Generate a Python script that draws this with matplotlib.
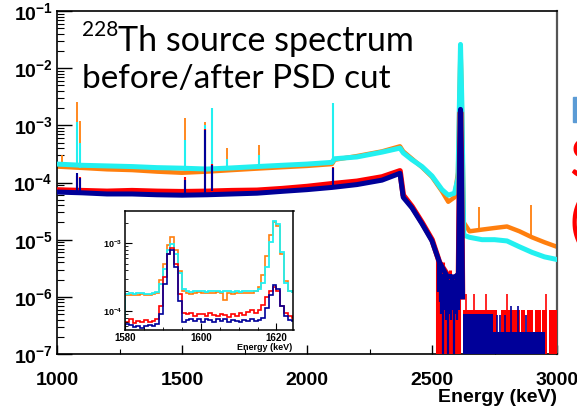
import numpy as np
import matplotlib
matplotlib.use("Agg")
import matplotlib.pyplot as plt
from matplotlib.patches import Rectangle
from matplotlib.ticker import FixedLocator, LogLocator, NullFormatter

plt.rcParams['font.family'] = ['Liberation Sans', 'DejaVu Sans']
plt.rcParams['mathtext.fontset'] = 'custom'
plt.rcParams['mathtext.rm'] = 'Liberation Sans'
plt.rcParams['mathtext.bf'] = 'Liberation Sans:bold'

ORANGE = '#ff7f0e'
CYAN = '#22f0f0'
RED = '#ff0000'
BLUE = '#000099'

# ---- main spectrum: continuum (counts/keV, normalised)
before_E = [1000, 1100, 1200, 1300, 1400, 1500, 1600, 1700, 1800, 1900, 2000, 2100, 2110,
            2200, 2300, 2372, 2385, 2420, 2460, 2500, 2540, 2565, 2590, 2604, 2610, 2614,
            2619, 2627, 2650, 2700, 2750, 2800, 2850, 2900, 2950, 3000]
orange = [1.9e-4, 1.8e-4, 1.7e-4, 1.65e-4, 1.55e-4, 1.48e-4, 1.55e-4, 1.65e-4, 1.75e-4,
          1.85e-4, 1.95e-4, 2.1e-4, 2.5e-4, 2.9e-4, 3.5e-4, 4.3e-4, 3.5e-4, 2.6e-4, 1.85e-4,
          1.25e-4, 7.0e-5, 4.6e-5, 5.5e-5, 1.5e-4, 3e-3, 2.4e-2, 3e-3, 2e-5, 1.4e-5, 1.5e-5,
          1.6e-5, 1.7e-5, 1.4e-5, 1.1e-5, 9e-6, 7.5e-6]
cyan = [2.1e-4, 2.0e-4, 1.95e-4, 1.9e-4, 1.82e-4, 1.78e-4, 1.72e-4, 1.8e-4, 1.9e-4, 2.0e-4,
        2.1e-4, 2.25e-4, 2.6e-4, 2.8e-4, 3.4e-4, 4.0e-4, 3.3e-4, 2.5e-4, 1.9e-4, 1.3e-4,
        7.5e-5, 6.0e-5, 6.5e-5, 1.2e-4, 3e-3, 2.6e-2, 3e-3, 1.2e-5, 1.1e-5, 1.0e-5, 1.0e-5,
        9.5e-6, 7.5e-6, 6e-6, 5e-6, 4.5e-6]

after_E = [1000, 1100, 1200, 1300, 1400, 1500, 1600, 1700, 1800, 1900, 2000, 2100, 2200,
           2300, 2372, 2385, 2420, 2460, 2500, 2530, 2560, 2590, 2606, 2611, 2614, 2617, 2622]
red = [7.4e-5, 7.2e-5, 7.0e-5, 7.2e-5, 7.0e-5, 6.9e-5, 7.0e-5, 7.2e-5, 7.3e-5, 7.8e-5,
       8.5e-5, 9.5e-5, 1.05e-4, 1.25e-4, 1.6e-4, 6e-5, 3.8e-5, 2.0e-5, 1.0e-5, 4.0e-6,
       2.5e-6, 2e-6, 2.5e-6, 3e-4, 1.7e-3, 3e-4, 1e-6]
blue = [6.8e-5, 6.6e-5, 6.3e-5, 6.3e-5, 6.1e-5, 6.0e-5, 6.1e-5, 6.3e-5, 6.5e-5, 7.0e-5,
        7.5e-5, 8.2e-5, 9.2e-5, 1.1e-4, 1.45e-4, 5.5e-5, 3.6e-5, 1.9e-5, 9.5e-6, 4.0e-6,
        2.3e-6, 2.2e-6, 2.5e-6, 3e-4, 1.9e-3, 3e-4, 1e-6]

# gamma lines (keV) with peak tops and the level of the band they sit on
peak_E = [1020, 1078, 1093, 1512, 1592, 1621, 1679, 1806, 2103, 2688, 2894]
orange_pk = [3.0e-4, 2.6e-3, 1.2e-3, 1.33e-3, 1.16e-3, 2.0e-3, 4.0e-4, 4.6e-4, 2.4e-3, 3.8e-5, 4.1e-5]
cyan_pk = [np.nan, 1.16e-3, 4.9e-4, 5.5e-4, 1.0e-3, 2.0e-3, 2.6e-4, 3.0e-4, 2.45e-3, np.nan, np.nan]
red_pk = [np.nan, 1.3e-4, 1.25e-4, 1.26e-4, 8.5e-4, 2.1e-4, np.nan, np.nan, 1.9e-4, np.nan, np.nan]
blue_pk = [np.nan, 1.45e-4, 1.2e-4, 1.1e-4, 8.3e-4, 2.0e-4, np.nan, np.nan, 1.8e-4, np.nan, np.nan]
before_base = [1.9e-4, 1.9e-4, 1.8e-4, 1.6e-4, 1.6e-4, 1.7e-4, 1.7e-4, 1.9e-4, 2.2e-4, 1.5e-5, 1.1e-5]
after_base = [7e-5, 7e-5, 7e-5, 6.5e-5, 6.5e-5, 7e-5, 7e-5, 7e-5, 9e-5, 1e-5, 1e-5]

# low-statistics region: bins drawn down to the floor
red_low_E = [2520, 2526, 2533, 2538, 2542, 2547, 2552, 2557, 2561, 2566, 2571, 2576, 2581,
             2586, 2590, 2595, 2600, 2605, 2609]
red_low_top = [5e-6, 4e-6, 3.5e-6, 2.5e-6, 4e-6, 1.5e-6, 3e-6, 2e-6, 2.5e-6, 1.2e-6, 3e-6,
               2e-6, 1.5e-6, 2.5e-6, 1.8e-6, 2.2e-6, 1.5e-6, 2e-6, 2.5e-6]
blue_low_E = [2522, 2530, 2537, 2544, 2550, 2556, 2563, 2569, 2575, 2582, 2588, 2594, 2600, 2606]
blue_low_bot = [1.2e-6, 8e-7, 5e-7, 1e-9, 6e-7, 4e-7, 1e-9, 5e-7, 4e-7, 6e-7, 1e-9, 5e-7, 4e-7, 6e-7]
blue_low_top = [5e-6, 4e-6, 3e-6, 2.5e-6, 3e-6, 2.2e-6, 2.5e-6, 2e-6, 2.5e-6, 2.2e-6, 2e-6,
                2.5e-6, 2.2e-6, 2.5e-6]
red_span_lo = [2624, 2775, 2856, 2878, 2912, 2941, 2966]
red_span_hi = [2760, 2850, 2870, 2905, 2935, 2960, 2998]
red_one = 5.9e-7
red_tall_E = [2637, 2667, 2717, 2800, 2955]
red_two = 1.1e-6
blue_span_lo = [2624, 2745]
blue_span_hi = [2745, 2952]
blue_span_lvl = [4.9e-7, 2.4e-7]
blue_bar_E = [2760, 2772, 2790, 2817, 2843, 2862, 2875, 2893]
blue_bar_top = [4.9e-7, 4.9e-7, 4.9e-7, 6.8e-7, 6.8e-7, 2.4e-7, 4.9e-7, 2.4e-7]

# ---- inset: 1 keV bins, 1580-1625 keV
inset_edges = np.arange(1580, 1626)
orange_in = np.array([1.72, 1.70, 1.75, 1.72, 1.78, 1.70, 1.74, 1.80, 1.85, 2.9, 5.0, 9.5, 12.3,
                      8.0, 3.9, 2.0, 1.85, 1.80, 1.88, 1.90, 1.85, 1.88, 1.82, 1.85, 1.90, 1.85,
                      1.45, 1.85, 1.80, 1.86, 1.82, 1.85, 1.88, 1.85, 1.95, 2.3, 3.4, 6.5, 13.0,
                      20.5, 18.0, 7.0, 2.8, 2.0, 1.9]) * 1e-4
cyan_in = np.array([1.80, 1.85, 1.78, 1.82, 1.88, 1.80, 1.78, 1.85, 1.90, 2.5, 4.2, 8.0, 9.8,
                    6.8, 3.6, 2.1, 1.95, 1.90, 1.95, 2.00, 1.95, 1.92, 1.98, 2.00, 1.95, 1.93,
                    1.97, 1.95, 1.92, 1.95, 1.90, 1.95, 1.98, 1.95, 2.00, 2.10, 2.6, 4.5, 10.5,
                    21.0, 19.0, 7.5, 2.6, 2.0, 1.9]) * 1e-4
red_in = np.array([7.0, 7.8, 6.8, 7.3, 7.0, 7.5, 7.0, 7.2, 7.8, 12, 32, 70, 85, 50, 18, 9.5,
                   9.0, 9.3, 8.6, 9.0, 9.2, 8.4, 9.5, 8.8, 8.5, 9.0, 8.7, 8.2, 9.0, 8.5, 9.3,
                   8.8, 9.8, 10.5, 9.5, 10.5, 12.5, 16, 20, 23, 20, 12, 9.5, 8.5, 8.0]) * 1e-5
blue_in = np.array([6.5, 6.2, 5.8, 6.0, 5.7, 6.0, 6.3, 6.0, 6.5, 9, 25, 70, 78, 45, 14, 7.0,
                    7.5, 7.8, 7.2, 7.6, 7.0, 7.8, 7.4, 7.0, 7.6, 7.3, 7.8, 7.0, 7.5, 7.2, 7.0,
                    7.5, 7.2, 7.6, 7.3, 7.5, 8.0, 11, 17, 24, 21, 12, 8.5, 7.5, 7.2]) * 1e-5

W, H = 577, 418
fig = plt.figure(figsize=(W / 100, H / 100), dpi=100)
ax = fig.add_axes([57 / W, 1 - 354 / H, 500 / W, 343 / H])

FLOOR = 1e-9
ax.plot(before_E, orange, color=ORANGE, lw=3.2, zorder=2)
ax.vlines(peak_E, before_base, orange_pk, color=ORANGE, lw=1.3, zorder=2)
ax.plot(before_E, cyan, color=CYAN, lw=3.6, zorder=3)
ax.vlines(peak_E, before_base, cyan_pk, color=CYAN, lw=1.5, zorder=3)

ax.vlines(red_low_E, FLOOR, red_low_top, color=RED, lw=2.2, zorder=4)
ax.bar(red_span_lo, [red_one] * len(red_span_lo), width=np.subtract(red_span_hi, red_span_lo),
       bottom=FLOOR, align='edge', color=RED, lw=0, zorder=4)
ax.vlines(red_tall_E, FLOOR, red_two, color=RED, lw=1.2, zorder=4)
ax.plot(after_E, red, color=RED, lw=4.0, zorder=4)
ax.vlines(peak_E, after_base, red_pk, color=RED, lw=1.5, zorder=4)

ax.bar(blue_span_lo, blue_span_lvl, width=np.subtract(blue_span_hi, blue_span_lo),
       bottom=FLOOR, align='edge', color=BLUE, lw=0, zorder=5)
ax.vlines(blue_bar_E, FLOOR, blue_bar_top, color=BLUE, lw=1.2, zorder=5)
ax.vlines(blue_low_E, blue_low_bot, blue_low_top, color=BLUE, lw=1.6, zorder=5)
ax.plot(after_E, blue, color=BLUE, lw=3.6, zorder=5)
ax.vlines(peak_E, after_base, blue_pk, color=BLUE, lw=1.5, zorder=5)

ax.set_yscale('log')
ax.set_xlim(1000, 3000)
ax.set_ylim(1e-7, 1e-1)
ax.set_yticks([10.0 ** k for k in range(-7, 0)])
ax.set_yticklabels([r'$\mathbf{10^{%d}}$' % k for k in range(-7, 0)], fontsize=14)
ax.yaxis.set_minor_locator(LogLocator(base=10, subs=np.arange(2, 10)))
ax.yaxis.set_minor_formatter(NullFormatter())
ax.set_xticks([1000, 1500, 2000, 2500, 3000])
ax.set_xticklabels(['1000', '1500', '2000', '2500', '3000'], fontsize=14, fontweight='bold')
ax.xaxis.set_minor_locator(FixedLocator([1250, 1750, 2250, 2750]))
ax.tick_params(axis='y', which='major', direction='in', length=11, width=1.0, pad=3)
ax.tick_params(axis='y', which='minor', direction='in', length=5, width=0.8)
ax.tick_params(axis='x', which='major', direction='in', length=6.5, width=1.0, pad=13)
ax.tick_params(axis='x', which='minor', direction='in', length=3.5, width=0.8)
for s in ax.spines.values():
    s.set_linewidth(1.2)
ax.spines['right'].set_color('#555555')
ax.spines['right'].set_linewidth(1.6)

fig.text(557 / W, 1 - 398 / H, 'Energy (keV)', ha='right', va='center',
         fontsize=14, fontweight='bold')

# title written on the slide
fig.text(82 / W, 1 - 36 / H, '228', family='Lato', fontsize=15, va='baseline')
fig.text(118 / W, 1 - 51 / H, 'Th source spectrum', family='Lato', fontsize=24.5, va='baseline')
fig.text(82 / W, 1 - 88 / H, 'before/after PSD cut', family='Lato', fontsize=24, va='baseline')

# slide text cut off at the right edge
fig.patches.append(Rectangle((573 / W, 1 - 122 / H), 6 / W, 25 / H, transform=fig.transFigure,
                             color='#5b9bd5', zorder=10))
fig.text(569 / W, 1 - 178 / H, 'S', family='Lato', fontsize=40, color=RED, va='baseline')
fig.text(569 / W, 1 - 240 / H, '(', family='Lato', fontsize=40, color=RED, va='baseline')

# ---- inset
axi = fig.add_axes([125 / W, 1 - 330 / H, 168.5 / W, 119 / H])
axi.stairs(orange_in, inset_edges, color=ORANGE, lw=1.2)
axi.stairs(cyan_in, inset_edges, color=CYAN, lw=1.3)
axi.stairs(red_in, inset_edges, color=RED, lw=1.2)
axi.stairs(blue_in, inset_edges, color=BLUE, lw=1.2)
axi.set_yscale('log')
axi.set_xlim(1580, 1624.5)
axi.set_ylim(5.3e-5, 2.95e-3)
axi.set_yticks([1e-4, 1e-3])
axi.set_yticklabels([r'$\mathbf{10^{-4}}$', r'$\mathbf{10^{-3}}$'], fontsize=6.5)
axi.yaxis.set_minor_locator(LogLocator(base=10, subs=np.arange(2, 10)))
axi.yaxis.set_minor_formatter(NullFormatter())
axi.set_xticks([1580, 1600, 1620])
axi.set_xticklabels(['1580', '1600', '1620'], fontsize=7, fontweight='bold')
axi.xaxis.set_minor_locator(FixedLocator(np.arange(1585, 1625, 5)))
axi.tick_params(which='major', direction='in', length=5, width=0.8, pad=2)
axi.tick_params(which='minor', direction='in', length=2.5, width=0.6)
for s in axi.spines.values():
    s.set_linewidth(1.1)
fig.text(292 / W, 1 - 348 / H, 'Energy (keV)', ha='right', va='center',
         fontsize=6.5, fontweight='bold')

fig.savefig('out.png', dpi=100)
